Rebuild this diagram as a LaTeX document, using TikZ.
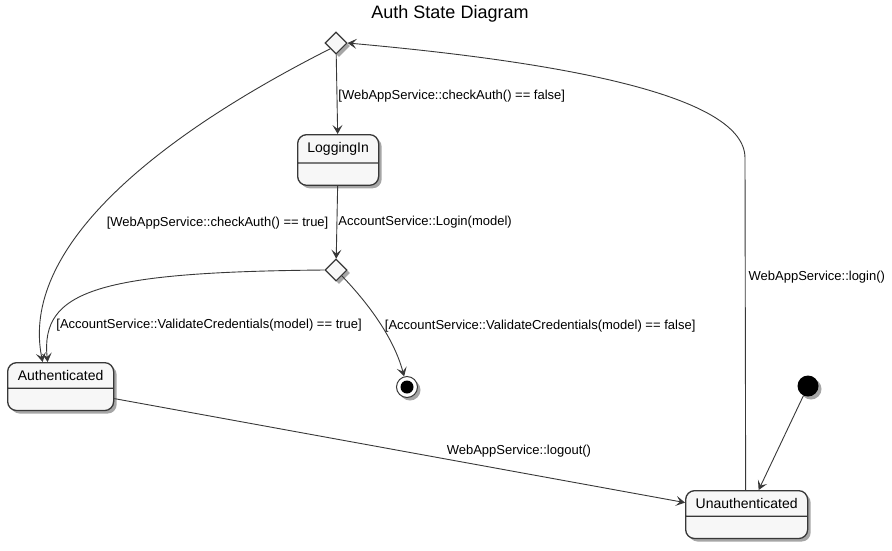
\documentclass[tikz,border=0pt]{standalone}
\usepackage{fontspec}
\setmainfont{Liberation Sans}
\usetikzlibrary{shapes,shapes.geometric,shapes.multipart,arrows.meta,positioning,calc,shadows}
\definecolor{edgegray}{HTML}{383838}
\definecolor{statefill}{HTML}{F7F7F7}

\begin{document}
\begin{tikzpicture}[x=1pt, y=-1pt,
  st/.style={rectangle split, rectangle split parts=2, draw=edgegray, line width=1.3pt,
    fill=statefill, rounded corners=9pt, inner xsep=4pt, inner ysep=7pt, anchor=north west,
    font=\fontsize{14}{16}\selectfont,
    drop shadow={shadow xshift=3pt, shadow yshift=-3pt, fill=black, opacity=0.35}},
  choice/.style={diamond, draw=edgegray, line width=1.1pt, fill=statefill, inner sep=0pt,
    minimum size=22pt, drop shadow={shadow xshift=3pt, shadow yshift=-3pt, fill=black, opacity=0.35}},
  arr/.style={-{Stealth[length=9pt, width=10pt, inset=4pt]}, line width=0.9pt, edgegray},
  lbl/.style={font=\fontsize{13}{15}\selectfont, text=black, inner sep=1pt}
]
  \useasboundingbox[fill=white] (0,0) rectangle (892,550);
  \node[font=\fontsize{18}{20}\selectfont] (title) at (450,14) {Auth State Diagram};

  % states
  \node[st, minimum width=81pt] (logging) at (297,134) {LoggingIn\nodepart{two}\rule{0pt}{7pt}};
  \node[st, minimum width=106pt] (authd) at (7,362) {Authenticated\nodepart{two}\rule{0pt}{7pt}};
  \node[st, minimum width=122pt] (unauth) at (685,490) {Unauthenticated\nodepart{two}\rule{0pt}{7pt}};
  \node[choice] (choice1) at (336,43) {};
  \node[choice] (choice2) at (336,270) {};
  \node[circle, fill=black, minimum size=21pt, inner sep=0pt,
    drop shadow={shadow xshift=3pt, shadow yshift=-3pt, fill=black, opacity=0.35}] (start) at (808,386) {};
  \node[circle, draw=edgegray, line width=1pt, fill=white, minimum size=21pt, inner sep=0pt,
    drop shadow={shadow xshift=3pt, shadow yshift=-3pt, fill=black, opacity=0.35},
    path picture={\fill[black] (path picture bounding box.center) circle (6.5pt);}] (stop) at (407,387) {};

  % transitions
  \draw[arr] (choice1) -- (logging) node[lbl, pos=0.52, anchor=west] {[WebAppService::checkAuth() == false]};
  \draw[arr] (logging) -- (choice2) node[lbl, pos=0.5, anchor=west] {AccountService::Login(model)};
  \draw[arr] (choice1.south west) .. controls (150,140) and (20,250) .. ([xshift=-18pt]authd.north)
    node[lbl, pos=0.58, anchor=west, xshift=18pt] {[WebAppService::checkAuth() == true]};
  \draw[arr] (choice2.west) .. controls (100,272) and (40,290) .. ([xshift=-13pt]authd.north)
    node[lbl, pos=0.8, anchor=west, xshift=3pt] {[AccountService::ValidateCredentials(model) == true]};
  \draw[arr] (choice2.south east) .. controls (365,300) and (393,335) .. (stop)
    node[lbl, pos=0.56, anchor=west, xshift=2pt] {[AccountService::ValidateCredentials(model) == false]};
  \draw[arr] ([yshift=-12pt]authd.east) -- ([yshift=12pt]unauth.west)
    node[lbl, pos=0.58, anchor=south west] {WebAppService::logout()};
  \draw[arr] (start) -- ([xshift=12pt]unauth.north);
  \coordinate (bend) at (745,158);
  \draw[arr] ([xshift=-1pt]unauth.north) -- (bend)
    node[lbl, pos=0.64, anchor=west, xshift=2pt] {WebAppService::login()}
    .. controls (745,95) and (560,62) .. (choice1.east);
\end{tikzpicture}
\end{document}
